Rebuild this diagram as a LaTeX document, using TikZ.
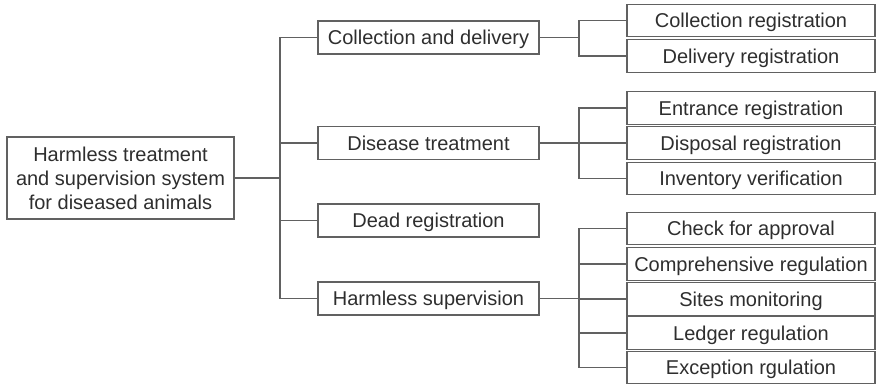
\documentclass[tikz,border=0pt]{standalone}
\usepackage{fontspec}
\setmainfont{Liberation Sans}
\begin{document}
\begin{tikzpicture}[x=1pt,y=-1pt,
  line width=1.2pt,
  draw=black!62,
  box/.style={draw=black!62, line width=1.2pt, rectangle, inner sep=0pt,
    font=\fontsize{20}{24}\selectfont, text=black!82,
    text height=14.3pt, text depth=0pt},
  rootbox/.style={draw=black!62, line width=1.2pt, rectangle, inner sep=0pt,
    minimum width=227pt, minimum height=82pt, align=center,
    font=\fontsize{20}{24}\selectfont, text=black!82},
  midbox/.style={box, minimum width=221pt, minimum height=33pt},
  leafbox/.style={box, minimum width=248pt, minimum height=32.5pt},
  link/.style={draw=black!62, line width=1.2pt}]
\useasboundingbox (0,0) rectangle (877,386);

% root
\node[rootbox] (root) at (120.5,178) {Harmless treatment\\and supervision system\\for diseased animals};

% second level
\node[midbox] (cd) at (428.5,37.5) {Collection and delivery};
\node[midbox] (dt) at (428.5,143) {Disease treatment};
\node[midbox] (dr) at (428.5,220.5) {Dead registration};
\node[midbox] (hs) at (428.5,298.5) {Harmless supervision};

% leaves
\node[leafbox] (cr) at (751,20.5) {Collection registration};
\node[leafbox] (der) at (751,56) {Delivery registration};
\node[leafbox] (er) at (751,108) {Entrance registration};
\node[leafbox] (dsr) at (751,143) {Disposal registration};
\node[leafbox] (iv) at (751,178.5) {Inventory verification};
\node[leafbox] (ca) at (751,228.5) {Check for approval};
\node[leafbox] (cmr) at (751,264) {Comprehensive regulation};
\node[leafbox] (sm) at (751,299) {Sites monitoring};
\node[leafbox] (lr) at (751,333) {Ledger regulation};
\node[leafbox] (exr) at (751,367.5) {Exception rgulation};

% trunk from the root to the second level
\coordinate (tr) at (280,178);
\draw[link] (root.east) -- (tr);
\draw[link] (cd.west) -| (tr) |- (hs.west);
\draw[link] (dt.west) -- (dt.west -| tr);
\draw[link] (dr.west) -- (dr.west -| tr);

% collection and delivery branch
\coordinate (b1) at (579,37.5);
\draw[link] (cd.east) -- (b1);
\draw[link] (cr.west) -| (b1) |- (der.west);

% disease treatment branch
\coordinate (b2) at (579,143);
\draw[link] (dt.east) -- (dsr.west);
\draw[link] (er.west) -| (b2) |- (iv.west);

% harmless supervision branch
\coordinate (b3) at (579,298.5);
\draw[link] (hs.east) -- (b3);
\draw[link] (ca.west) -| (b3) |- (exr.west);
\draw[link] (cmr.west) -- (cmr.west -| b3);
\draw[link] (sm.west) -- (sm.west -| b3);
\draw[link] (lr.west) -- (lr.west -| b3);
\end{tikzpicture}
\end{document}
